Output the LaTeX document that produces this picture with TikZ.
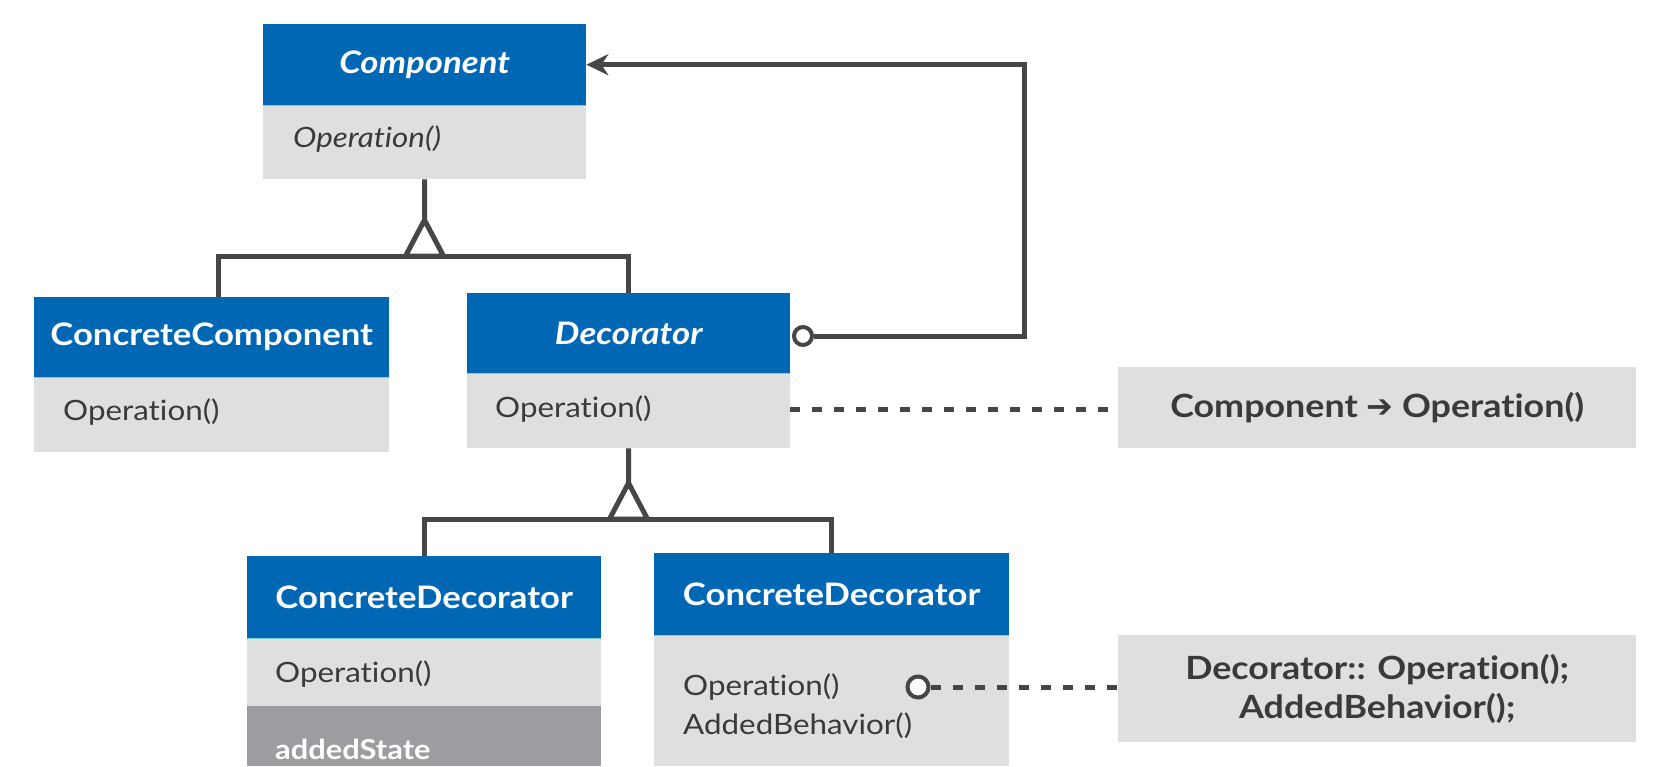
\documentclass[tikz,border=0pt]{standalone}
\usepackage{fontspec}
\setmainfont{Lato}[FakeStretch=1.12, Ligatures={NoCommon}]
\newfontfamily\symfont{DejaVu Sans}
\usetikzlibrary{arrows.meta}
\definecolor{hdr}{HTML}{0067B4}
\definecolor{bodyg}{HTML}{DFDFDF}
\definecolor{darkg}{HTML}{9D9DA1}
\definecolor{ln}{HTML}{464646}
\definecolor{txt}{HTML}{3A3A3A}
\definecolor{sepc}{HTML}{7FD0D6}
\begin{document}
\begin{tikzpicture}[x=1pt,y=-1pt,
  hdrbox/.style={fill=hdr, draw=none, anchor=north west, inner sep=0pt, text=white,
     font=\fontsize{31}{37}\selectfont\bfseries},
  bodybox/.style={fill=bodyg, draw=none, anchor=north west, inner sep=0pt},
  darkbox/.style={fill=darkg, draw=none, anchor=north west, inner sep=0pt},
  optext/.style={anchor=west, inner sep=0pt, text=txt, font=\fontsize{28}{34}\selectfont},
  notebox/.style={fill=bodyg, draw=none, anchor=north west, inner sep=0pt, text=txt,
     align=center, font=\fontsize{32}{39}\selectfont\bfseries},
  conn/.style={draw=ln, line width=5pt},
  dashconn/.style={draw=ln, line width=5pt, dash pattern=on 10pt off 12pt},
  sepline/.style={draw=sepc, line width=1.2pt},
  ring/.style={circle, draw=ln, line width=4pt, fill=white, minimum size=18pt, inner sep=0pt},
  tri/.style={draw=ln, line width=5pt, fill=white, line join=miter}
]
\useasboundingbox (0,0) rectangle (1668,766);
\fill[white] (0,0) rectangle (1668,766);

% Component
\node[hdrbox, minimum width=323pt, minimum height=81pt] (comph) at (263,24) {\itshape Component};
\node[bodybox, minimum width=323pt, minimum height=74pt] (compb) at (263,105) {};
\draw[sepline] (comph.south west) -- (comph.south east);
\node[optext, font=\fontsize{28}{34}\selectfont\itshape] (compop) at (293,139) {Operation()};

% ConcreteComponent
\node[hdrbox, minimum width=355pt, minimum height=80pt] (cch) at (34,297) {ConcreteComponent};
\node[bodybox, minimum width=355pt, minimum height=75pt] (ccb) at (34,377) {};
\draw[sepline] (cch.south west) -- (cch.south east);
\node[optext] (ccop) at (63,412) {Operation()};

% Decorator
\node[hdrbox, minimum width=323pt, minimum height=80pt] (dech) at (467,293) {\itshape Decorator};
\node[bodybox, minimum width=323pt, minimum height=75pt] (decb) at (467,373) {};
\draw[sepline] (dech.south west) -- (dech.south east);
\node[optext] (decop) at (495,409) {Operation()};

% ConcreteDecorator 1
\node[hdrbox, minimum width=354pt, minimum height=82pt] (cd1h) at (247,556) {ConcreteDecorator};
\node[bodybox, minimum width=354pt, minimum height=68pt] (cd1b) at (247,638) {};
\node[darkbox, minimum width=354pt, minimum height=60pt] (cd1s) at (247,706) {};
\draw[sepline] (cd1h.south west) -- (cd1h.south east);
\node[optext] (cd1op) at (275,674) {Operation()};
\node[optext, text=white, font=\fontsize{27.5}{33}\selectfont\bfseries] (cd1st) at (275,749) {addedState};

% ConcreteDecorator 2
\node[hdrbox, minimum width=355pt, minimum height=82pt] (cd2h) at (654,553) {ConcreteDecorator};
\node[bodybox, minimum width=355pt, minimum height=131pt] (cd2b) at (654,635) {};
\draw[sepline] (cd2h.south west) -- (cd2h.south east);
\node[optext] (cd2op) at (683,687) {Operation()};
\node[optext] (cd2ab) at (683,726) {AddedBehavior()};

% Notes
\node[notebox, minimum width=518pt, minimum height=81pt] (note1) at (1118,367)
  {Component {\symfont\bfseries ➔} Operation()};
\node[notebox, minimum width=518pt, minimum height=107pt] (note2) at (1118,635)
  {Decorator:: Operation();\\AddedBehavior();};

% inheritance Component
\coordinate (apex1) at (424.5,220);
\draw[conn] (compb.south) -- (apex1);
\draw[conn] ([xshift=6.5pt]cch.north) -- ++(0,-41) -| (dech.north);
\draw[tri] (apex1) -- (405.5,256) -- (443.5,256) -- cycle;

% inheritance Decorator
\coordinate (apex2) at (628.5,483);
\draw[conn] (decb.south) -- (apex2);
\draw[conn] (cd1h.north) -- ++(0,-37) -| (cd2h.north);
\draw[tri] (apex2) -- (609.5,519) -- (647.5,519) -- cycle;

% aggregation Decorator -> Component
\node[ring] (agg) at (803,336) {};
\draw[conn, -{Stealth[length=22pt, width=21pt, inset=7pt]}] (agg.east) -- (1024,336) |- (comph.east);

% note links
\draw[dashconn] (decb.east |- decop) -- (note1.west |- decop);
\node[ring, minimum size=21pt] (ring2) at (918,687) {};
\draw[dashconn] (ring2.east) -- (note2.west |- ring2);
\end{tikzpicture}
\end{document}
